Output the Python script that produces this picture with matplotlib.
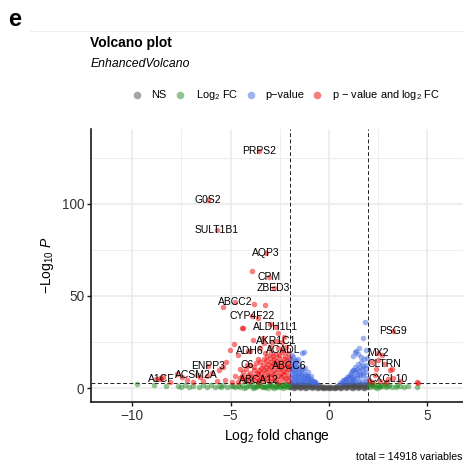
import matplotlib.pyplot as plt
from matplotlib.lines import Line2D

plt.rcParams['font.family'] = ['Liberation Sans', 'DejaVu Sans']
plt.rcParams['mathtext.fontset'] = 'custom'
plt.rcParams['mathtext.rm'] = 'Liberation Sans'
plt.rcParams['mathtext.it'] = 'Liberation Sans:italic'

FC_CUTOFF = 2.0
P_CUTOFF = 2.7          # -log10 p threshold
TOTAL = 14918

# not significant
ns_fc = [-1.95, -1.8, -1.65, -1.5, -1.35, -1.2, -1.05, -0.9, -0.75, -0.6, -0.45, -0.3, -0.15, 0.0,
         0.15, 0.3, 0.45, 0.6, 0.75, 0.9, 1.05, 1.2, 1.35, 1.5, 1.65, 1.8, 1.95,
         -1.9, -1.75, -1.6, -1.45, -1.3, -1.15, -1.0, -0.85, -0.7, -0.55, -0.4, -0.25, 0.0, 0.25,
         0.4, 0.55, 0.7, 0.85, 1.0, 1.15, 1.3, 1.45, 1.6, 1.75, 1.9,
         -1.88, -1.58, -1.28, -0.98, -0.68, 0.68, 0.98, 1.28, 1.58, 1.88,
         -1.97, -1.72, -1.42, -1.12, -0.82, -0.52, -0.22, 0.08, 0.38, 0.62, 0.92, 1.22, 1.52, 1.82,
         -1.85, -1.55, -1.25, -0.95, -0.65, 0.65, 0.95, 1.25, 1.55, 1.85,
         -0.1, 0.1, -0.35, 0.35,
         -1.92, -1.62, -1.32, -1.02, -0.72, 0.72, 1.02, 1.32, 1.62, 1.92,
         -1.78, -1.48, -1.18, -0.88, -0.58, -0.28, 0.02, 0.32, 0.58, 0.88, 1.18, 1.48, 1.78]
ns_p = [0.5, 0.3, 0.6, 0.4, 0.5, 0.3, 0.6, 0.4, 0.5, 0.3, 0.4, 0.2, 0.3, 0.1,
        0.3, 0.2, 0.4, 0.3, 0.5, 0.4, 0.6, 0.3, 0.5, 0.4, 0.6, 0.3, 0.5,
        2.1, 1.8, 2.2, 1.9, 2.1, 1.8, 2.2, 1.9, 1.8, 1.5, 1.1, 0.8, 0.7, 0.8,
        1.1, 1.5, 1.8, 2.0, 2.2, 1.8, 2.1, 1.9, 2.2, 1.8, 2.1,
        1.2, 1.3, 1.1, 1.3, 1.2, 1.2, 1.1, 1.3, 1.2, 1.2,
        0.9, 1.0, 0.8, 1.0, 0.9, 0.7, 0.5, 0.4, 0.6, 0.8, 0.9, 1.0, 0.8, 0.9,
        1.7, 1.6, 1.8, 1.6, 1.5, 1.6, 1.7, 1.6, 1.8, 1.7,
        0.6, 0.5, 0.6, 0.7,
        2.4, 2.3, 2.5, 2.4, 2.2, 2.3, 2.4, 2.5, 2.3, 2.4,
        0.2, 0.1, 0.2, 0.1, 0.2, 0.1, 0.0, 0.1, 0.2, 0.1, 0.2, 0.1, 0.2]

# large fold change only
fc_fc = [-9.75, -8.9, -8.3, -7.7, -7.5, -7.3, -7.1, -6.9, -6.6, -6.4, -6.2, -6.0, -5.8, -5.6, -5.4,
         -5.2, -5.0, -4.8, -4.6, -4.4, -4.2, -4.0, -3.8, -3.6, -3.4, -3.2, -3.0, -2.9, -2.7, -2.5,
         -2.4, -2.3, -2.15, -2.1, -2.6, -3.1, -3.5, -2.2, -2.8, -3.9, -4.3, -3.3, -2.45, -2.05,
         -3.7, -2.95, -2.35, -2.55, -2.75, -3.05, -3.25, -3.45, -3.65, -3.85, -4.1, -4.5, -4.9,
         -5.5, -2.12, -2.65, -2.25,
         2.05, 2.1, 2.2, 2.35, 2.5, 2.6, 2.75, 2.9, 3.05, 3.2, 3.4, 3.44, 3.6, 3.8, 4.0, 4.46,
         2.3, 2.45, 2.15, 2.65, 2.85, 2.25, 2.55, 3.0]
fc_p = [2.3, 1.5, 1.2, 1.0, 0.8, 1.8, 0.9, 1.3, 0.7, 1.6, 0.9, 1.5, 0.6, 1.2, 1.8,
        0.8, 1.4, 0.5, 1.1, 1.9, 0.6, 1.3, 0.8, 1.7, 0.5, 1.2, 2.0, 0.7, 1.4, 0.4,
        1.8, 1.0, 0.5, 1.6, 2.2, 0.3, 2.1, 2.3, 0.3, 2.2, 0.2, 0.9, 1.2, 0.9,
        0.4, 1.5, 0.2, 1.9, 1.1, 1.7, 0.6, 1.4, 1.0, 0.3, 1.6, 0.9, 1.2,
        0.7, 2.1, 0.6, 1.3,
        1.6, 0.5, 1.5, 0.8, 2.0, 0.4, 1.2, 0.6, 1.8, 0.9, 0.4, 1.8, 1.3, 0.6, 1.1, 0.5,
        2.2, 0.3, 2.3, 1.9, 2.1, 1.1, 1.0, 1.4]

# p-value only
pv_fc = [-1.95, -1.95, -1.95, -1.95, -1.97, -1.8, -1.8, -1.8, -1.8, -1.82,
         -1.65, -1.65, -1.65, -1.65, -1.66, -1.5, -1.5, -1.5, -1.5, -1.52,
         -1.39, -1.35, -1.35, -1.35, -1.3, -1.26, -1.2, -1.2, -1.2, -1.2,
         -1.05, -1.05, -1.05, -1.05, -0.9, -0.9, -0.9, -0.78, -0.75, -0.65, -1.9, -1.55,
         -1.88, -1.88, -1.88, -1.88, -1.72, -1.72, -1.72, -1.72, -1.58, -1.58, -1.58,
         -1.42, -1.42, -1.42, -1.28, -1.28, -1.12, -1.12, -0.98, -0.84, -0.7,
         0.55, 0.65, 0.75, 0.8, 0.9, 0.95, 1.05, 1.1, 1.2, 1.25, 1.35, 1.4, 1.5, 1.55,
         1.65, 1.7, 1.8, 1.85, 1.95, 0.85, 1.0, 1.15, 1.3, 1.45, 1.6, 1.75, 1.9,
         1.15, 1.3, 1.45, 1.6, 1.75, 1.9, 1.32, 1.36, 1.49, 1.25, 1.62, 1.75, 1.83, 1.9, 1.55,
         0.7, 0.88, 1.02, 1.18, 1.38, 1.52, 1.68, 1.82, 1.22, 1.42, 1.58, 1.72, 1.88, 1.12]
pv_p = [3.6, 6.2, 9.1, 12.3, 15.8, 3.4, 6.6, 10.1, 13.4, 16.9,
        3.7, 6.1, 8.9, 11.8, 14.6, 3.5, 5.9, 8.4, 11.2, 13.1,
        19.3, 3.6, 5.6, 8.1, 10.4, 19.7, 3.4, 5.5, 7.9, 10.8,
        3.5, 5.3, 6.9, 8.8, 3.3, 4.9, 6.4, 3.2, 4.1, 3.0, 18.2, 16.0,
        4.8, 7.7, 10.6, 14.0, 5.0, 8.2, 11.7, 15.1, 4.6, 7.4, 10.3,
        4.7, 7.1, 9.8, 4.4, 6.8, 4.5, 6.6, 4.3, 4.0, 3.6,
        3.1, 3.5, 4.2, 3.3, 6.1, 3.6, 7.4, 3.4, 9.8, 3.7, 11.6, 4.1, 12.9, 3.5,
        14.3, 3.9, 15.8, 3.6, 16.4, 5.2, 5.6, 6.3, 6.8, 7.2, 7.9, 8.3, 8.8,
        9.1, 10.0, 10.6, 11.5, 12.1, 12.7, 19.8, 20.4, 18.6, 17.3, 16.8, 27.4, 36.1, 20.5, 22.0,
        4.4, 4.9, 6.5, 4.7, 8.6, 9.4, 10.2, 11.0, 5.1, 5.8, 6.6, 7.1, 5.6, 8.0]

# p-value and fold change (unlabelled)
both_fc = [-2.05, -2.3, -2.55, -2.8, -3.05, -3.3, -3.55, -3.8, -4.05, -4.3, -4.6,
           -2.1, -2.35, -2.6, -2.85, -3.1, -3.35, -3.6, -3.85, -4.1, -4.4,
           -2.05, -2.3, -2.55, -2.8, -3.05, -3.3, -3.55, -3.8, -4.2,
           -2.1, -2.35, -2.6, -2.85, -3.1, -3.35, -3.7, -4.0,
           -2.05, -2.3, -2.55, -2.8, -3.0, -3.3, -3.6,
           -2.1, -2.4, -2.7, -2.95, -3.25,
           -2.2, -2.6, -3.0, -3.5,
           -2.4, -2.9, -3.3,
           -2.18, -2.43, -2.68, -2.93, -3.18, -3.43, -3.68, -3.95, -4.2, -4.5,
           -2.18, -2.43, -2.68, -2.93, -3.18, -3.43, -3.68, -4.0, -4.35,
           -2.18, -2.43, -2.68, -2.93, -3.18, -3.45, -3.8,
           -2.18, -2.43, -2.68, -2.93, -3.2, -3.5,
           -2.25, -2.55, -2.85, -3.15,
           -3.85, -3.34, -4.36, -3.26, -3.8, -5.41, -4.44, -4.82, -5.04, -4.64, -5.24, -5.38,
           -5.58, -5.97, -6.22, -6.56, -7.49, -7.75, -8.6, -8.8, -8.43, -3.9, -4.95, -5.3,
           -5.7, -4.8, -4.5, -2.6, -3.0, -2.3, -4.1, -3.6, -6.9, -7.2, -8.1, -6.4,
           2.17, 3.1, 2.34, 3.27, 4.46, 2.05, 3.22, 2.68, 4.54, 2.51, 2.2, 2.6, 2.9, 3.6, 2.4]
both_p = [3.8, 4.3, 3.5, 4.6, 3.9, 4.4, 3.6, 4.2, 3.7, 4.5, 3.4,
          6.8, 7.4, 6.6, 7.2, 7.0, 6.7, 7.5, 6.9, 7.3, 6.5,
          10.2, 9.6, 10.5, 9.8, 10.3, 9.7, 10.1, 9.9, 10.4,
          13.1, 12.7, 13.4, 12.9, 13.2, 12.6, 13.5, 12.8,
          16.2, 15.7, 16.4, 15.9, 16.3, 15.8, 16.1,
          19.0, 19.4, 18.8, 19.3, 18.9,
          22.1, 21.7, 22.3, 21.9,
          24.8, 25.3, 24.6,
          5.4, 5.9, 5.2, 5.7, 5.5, 5.8, 5.3, 5.6, 5.1, 5.5,
          8.6, 8.2, 8.9, 8.4, 8.7, 8.1, 8.5, 8.3, 8.8,
          11.6, 11.2, 11.8, 11.4, 11.5, 11.1, 11.7,
          14.6, 14.2, 14.8, 14.4, 14.5, 14.3,
          17.6, 17.9, 17.4, 17.7,
          26.2, 27.0, 32.5, 45.0, 45.5, 43.9, 32.5, 24.0, 20.7, 18.0, 14.4, 11.7,
          9.9, 8.1, 6.7, 6.0, 6.0, 7.7, 5.4, 4.9, 6.0, 63.7, 3.5, 4.5,
          3.8, 6.5, 10.5, 30.0, 35.0, 28.0, 20.0, 38.0, 3.4, 4.3, 3.6, 3.9,
          14.4, 9.9, 7.2, 5.4, 3.2, 4.5, 10.3, 18.0, 3.0, 15.3, 3.3, 4.0, 3.5, 3.8, 10.5]

# labelled genes
gene_names = ['PRPS2', 'G0S2', 'SULT1B1', 'AQP3', 'CPM', 'ZBED3', 'ABCC2', 'CYP4F22',
              'ALDH1L1', 'AKR1C1', 'ADH6', 'ACADL', 'C6', 'ABCC6', 'ABCA12', 'ENPP3',
              'ACSM2A', 'A1CF', 'PSG9', 'MX2', 'CLTRN', 'CXCL10']
gene_fc = [-3.56, -6.14, -5.69, -3.2, -3.04, -2.81, -4.78, -3.9,
           -2.71, -2.66, -4.02, -2.32, -4.16, -2.02, -3.55, -6.14,
           -6.73, -8.55, 3.27, 2.51, 2.8, 3.02]
gene_p = [128.7, 102.0, 85.8, 73.5, 60.5, 54.5, 46.8, 39.2,
          33.4, 25.6, 20.4, 20.7, 12.6, 12.2, 4.5, 11.8,
          7.0, 5.0, 31.2, 19.0, 13.0, 5.0]

c_ns, c_fc, c_pv, c_both = '#4D4D4D', '#228B22', '#4169E1', '#EE0000'

W, H = 463, 466
fig = plt.figure(figsize=(W / 100, H / 100), dpi=100)
ax = fig.add_axes([91 / W, 1 - 401.7 / H, (W - 91) / W, (401.7 - 129) / H])

pt = dict(s=16, alpha=0.5, linewidths=0, zorder=3)
ax.scatter(ns_fc, ns_p, color=c_ns, **pt)
ax.scatter(fc_fc, fc_p, color=c_fc, **pt)
ax.scatter(pv_fc, pv_p, color=c_pv, **pt)
ax.scatter(both_fc, both_p, color=c_both, **pt)
ax.scatter(gene_fc, gene_p, color=c_both, **pt)

for name, x, y in zip(gene_names, gene_fc, gene_p):
    ax.text(x, y, name, ha='center', va='center', fontsize=7.5, color='black', zorder=4)

# cut-off lines
dash = dict(color='#222222', lw=0.7, ls=(0, (4, 2.5)), zorder=2)
ax.axvline(-FC_CUTOFF, **dash)
ax.axvline(FC_CUTOFF, **dash)
ax.axhline(P_CUTOFF, **dash)

ax.set_xlim(-12.1, 6.82)
ax.set_ylim(-7.3, 140.5)
ax.set_xticks([-10, -5, 0, 5])
ax.set_xticks([-7.5, -2.5, 2.5], minor=True)
ax.set_yticks([0, 50, 100])
ax.set_yticks([25, 75, 125], minor=True)
ax.grid(which='major', color='#ebebeb', lw=1.2, zorder=0)
ax.grid(which='minor', color='#ebebeb', lw=0.6, zorder=0)
ax.set_axisbelow(True)
for side in ['top', 'right']:
    ax.spines[side].set_visible(False)
for side in ['left', 'bottom']:
    ax.spines[side].set_linewidth(1.2)
    ax.spines[side].set_color('#1a1a1a')
ax.tick_params(which='major', length=3, width=1, color='#1a1a1a', labelsize=9.8,
               labelcolor='#333333', pad=2)
ax.tick_params(which='minor', length=0)

ax.set_xlabel('Log$_2$ fold change', fontsize=10, labelpad=3)
ax.set_ylabel(r'$-$Log$_{10}$ $\mathit{P}$', fontsize=10, labelpad=4)

# panel letter, titles and header line
fig.text(8 / W, 1 - 19 / H, 'e', fontsize=17, fontweight='bold', va='center')
fig.add_artist(Line2D([30 / W, 1], [1 - 30.5 / H] * 2, color='#eeeeee', lw=0.8))
fig.text(90.5 / W, 1 - 43 / H, 'Volcano plot', fontsize=10, fontweight='bold', va='center')
fig.text(90.5 / W, 1 - 64 / H, 'EnhancedVolcano', fontsize=8.8, style='italic', va='center')

# legend
legend_items = [(136.7, 151, c_ns, 'NS'),
                (180, 196, c_fc, 'Log$_2$ FC'),
                (250.7, 265, c_pv, 'p\u2212value'),
                (316.7, 331.7, c_both, 'p \u2212 value and log$_2$ FC')]
for mx, tx, col, lab in legend_items:
    fig.add_artist(Line2D([mx / W], [1 - 95 / H], marker='o', ms=5.5, color=col,
                          alpha=0.5, lw=0, markeredgewidth=0))
    fig.text(tx / W, 1 - 95 / H, lab, fontsize=7.9, va='center')

fig.text(356 / W, 1 - 457 / H, f'total = {TOTAL} variables', fontsize=7.6, va='center')

fig.savefig('out.png', dpi=100)
